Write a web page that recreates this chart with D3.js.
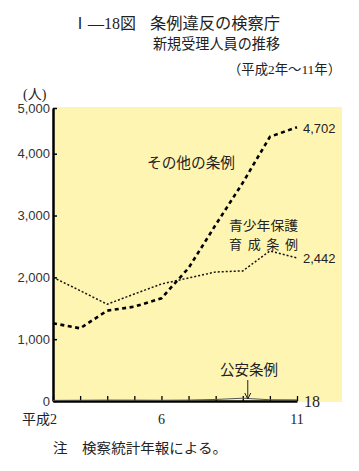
<!DOCTYPE html>
<html>
<head>
<meta charset="utf-8">
<script src="https://cdn.jsdelivr.net/npm/d3@7"></script>
<style>
  body { margin: 0; background: #fff; }
  svg { display: block; }
</style>
</head>
<body>
<div id="chart"></div>
<script>
// data (平成2年〜11年)
const years = [2, 3, 4, 5, 6, 7, 8, 9, 10, 11];
const otherOrd = [1257, 1176, 1461, 1526, 1662, 2150, 2850, 3530, 4370, 4580];   // その他の条例
const youthOrd = [2000, 1785, 1565, 1731, 1893, 1990, 2087, 2104, 2427, 2314];   // 青少年保護育成条例
const publicOrd = [10, 12, 15, 14, 12, 15, 25, 45, 20, 18];                     // 公安条例
const yTicks = [0, 1000, 2000, 3000, 4000, 5000];
const xLabelYears = [2, 6, 11];
const xLabelText = ["平成2", "6", "11"];
const endLabels = ["4,702", "2,442", "18"];

const JP = "'Noto Sans CJK JP', sans-serif";
const SERIF = "'Liberation Serif', 'Noto Sans CJK JP', serif";
const SANS = "'Liberation Sans', Arial, sans-serif";

function drawChart() {
    const width = 359, height = 471;

    const svg = d3.select("#chart").append("svg")
        .attr("width", width)
        .attr("height", height);

    const x = d3.scaleLinear().domain([2, 11]).range([53, 297]);
    // the original's top band (4,000-5,000) is drawn narrower than the rest
    const y = d3.scaleLinear().domain([0, 4000, 5000]).range([401, 153.7, 108]);

    // yellow plot background
    svg.append("rect")
        .attr("x", 53).attr("y", 107)
        .attr("width", 342 - 53).attr("height", 402 - 107)
        .attr("fill", "#fff5b3");

    // title
    svg.append("text").attr("x", 72).attr("y", 29)
        .style("font-family", SERIF).style("font-size", "16px").attr("fill", "#222")
        .text("Ⅰ—18図");
    svg.append("text").attr("x", 150).attr("y", 29)
        .attr("textLength", 130).attr("lengthAdjust", "spacingAndGlyphs")
        .style("font-family", JP).style("font-size", "16px").attr("fill", "#222")
        .text("条例違反の検察庁");
    svg.append("text").attr("x", 153).attr("y", 49)
        .attr("textLength", 127).attr("lengthAdjust", "spacingAndGlyphs")
        .style("font-family", JP).style("font-size", "15px").attr("fill", "#222")
        .text("新規受理人員の推移");
    svg.append("text").attr("x", 228).attr("y", 74)
        .attr("textLength", 113).attr("lengthAdjust", "spacingAndGlyphs")
        .style("font-family", SERIF).style("font-size", "13.5px").attr("fill", "#222")
        .text("（平成2年～11年）");

    // unit
    svg.append("text").attr("x", 23).attr("y", 99)
        .style("font-family", SERIF).style("font-size", "14px").attr("fill", "#222")
        .text("(人)");

    // y axis
    const yAxis = svg.append("g")
        .attr("transform", "translate(53,0)")
        .call(d3.axisLeft(y).tickValues(yTicks).tickFormat(d3.format(",")).tickSize(-4).tickSizeOuter(0).tickPadding(3));
    yAxis.select(".domain").attr("stroke", "#000").attr("stroke-width", 2.5);
    yAxis.selectAll(".tick line").attr("stroke", "#000").attr("stroke-width", 1.5);
    yAxis.selectAll(".tick text")
        .style("font-family", SANS).style("font-size", "13px").attr("fill", "#333");

    // x axis
    const xAxis = svg.append("g")
        .attr("transform", "translate(0,401)")
        .call(d3.axisBottom(x).tickValues(years).tickFormat("").tickSize(-5).tickSizeOuter(0));
    xAxis.select(".domain").attr("stroke", "#000").attr("stroke-width", 2.5);
    xAxis.selectAll(".tick line").attr("stroke", "#000").attr("stroke-width", 1.3);

    svg.selectAll(".xlab")
        .data(xLabelYears)
        .enter().append("text")
        .attr("class", "xlab")
        .attr("x", (d, i) => i === 0 ? x(d) + 4 : x(d))
        .attr("y", 424)
        .attr("text-anchor", (d, i) => i === 0 ? "end" : "middle")
        .style("font-family", SERIF).style("font-size", "14px").attr("fill", "#222")
        .text((d, i) => xLabelText[i]);

    const line = d3.line()
        .x((d, i) => x(years[i]))
        .y(d => y(d));

    // 公安条例
    svg.append("path")
        .datum(publicOrd)
        .attr("d", line)
        .attr("fill", "none")
        .attr("stroke", "#555")
        .attr("stroke-width", 1);

    // 青少年保護育成条例
    svg.append("path")
        .datum(youthOrd)
        .attr("d", line)
        .attr("fill", "none")
        .attr("stroke", "#111")
        .attr("stroke-width", 1.5)
        .attr("stroke-dasharray", "2,2");

    // その他の条例
    svg.append("path")
        .datum(otherOrd)
        .attr("d", line)
        .attr("fill", "none")
        .attr("stroke", "#000")
        .attr("stroke-width", 2.6)
        .attr("stroke-dasharray", "4,3.5");

    // series labels
    svg.append("text").attr("x", 147).attr("y", 168)
        .attr("textLength", 88).attr("lengthAdjust", "spacingAndGlyphs")
        .style("font-family", JP).style("font-size", "14.5px").attr("fill", "#222")
        .text("その他の条例");
    svg.append("text").attr("x", 229).attr("y", 230)
        .attr("textLength", 69).attr("lengthAdjust", "spacingAndGlyphs")
        .style("font-family", JP).style("font-size", "13px").attr("fill", "#222")
        .text("青少年保護");
    svg.append("text").attr("x", 229).attr("y", 249)
        .attr("textLength", 69).attr("lengthAdjust", "spacing")
        .style("font-family", JP).style("font-size", "13px").attr("fill", "#222")
        .text("育成条例");
    svg.append("text").attr("x", 220).attr("y", 375)
        .attr("textLength", 58).attr("lengthAdjust", "spacingAndGlyphs")
        .style("font-family", JP).style("font-size", "14.5px").attr("fill", "#222")
        .text("公安条例");

    // arrow to 公安条例 line
    const ax = x(9) + 5;
    svg.append("path")
        .attr("d", `M${ax},380 L${ax},399 M${ax - 3},393 L${ax},399 L${ax + 3},393`)
        .attr("fill", "none")
        .attr("stroke", "#222")
        .attr("stroke-width", 1);

    // end values
    svg.append("text").attr("x", 303).attr("y", 133)
        .style("font-family", SANS).style("font-size", "13px").attr("fill", "#222")
        .text(endLabels[0]);
    svg.append("text").attr("x", 303).attr("y", 263)
        .style("font-family", SANS).style("font-size", "13px").attr("fill", "#222")
        .text(endLabels[1]);
    svg.append("text").attr("x", 304).attr("y", 407)
        .style("font-family", SERIF).style("font-size", "16px").attr("fill", "#222")
        .text(endLabels[2]);

    // note
    svg.append("text").attr("x", 53).attr("y", 453)
        .attr("textLength", 174).attr("lengthAdjust", "spacingAndGlyphs")
        .style("font-family", JP).style("font-size", "14px").attr("fill", "#222")
        .text("注　検察統計年報による。");
}

drawChart();
</script>
</body>
</html>
